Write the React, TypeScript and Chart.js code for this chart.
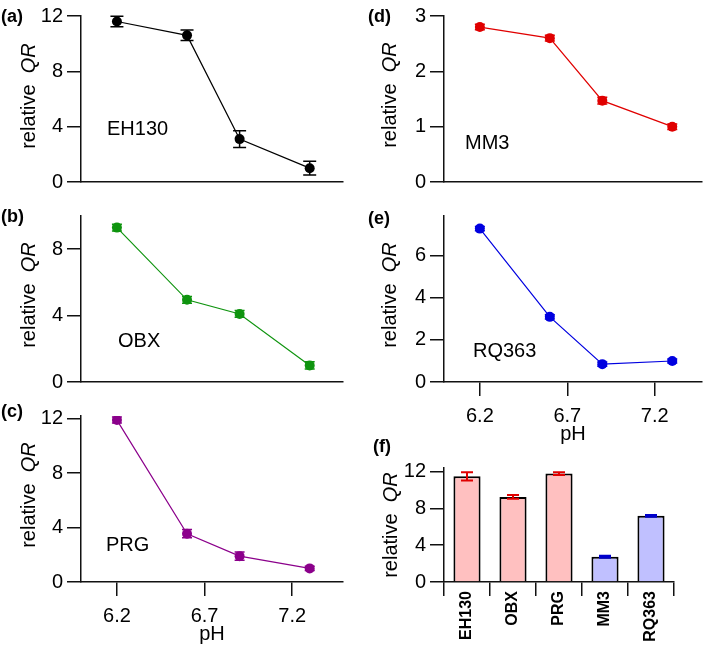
import React, { useEffect, useRef } from 'react';
import { Chart, registerables } from 'chart.js';

Chart.register(...registerables);

// ---------- data ----------
const PH = [6.2, 6.6, 6.9, 7.3];
const PH_TICKS = [6.2, 6.7, 7.2];

const EH130_QR = [11.6, 10.6, 3.1, 1.0];
const EH130_ERR = [0.38, 0.38, 0.6, 0.5];
const OBX_QR = [9.3, 4.95, 4.1, 1.0];
const OBX_ERR = [0.2, 0.2, 0.2, 0.22];
const PRG_QR = [11.9, 3.55, 1.9, 1.0];
const PRG_ERR = [0.22, 0.3, 0.3, 0.15];
const MM3_QR = [2.8, 2.6, 1.47, 1.0];
const MM3_ERR = [0.05, 0.05, 0.06, 0.05];
const RQ363_QR = [7.3, 3.1, 0.85, 1.0];
const RQ363_ERR = [0.1, 0.1, 0.1, 0.1];

const STRAINS = ['EH130', 'OBX', 'PRG', 'MM3', 'RQ363'];
const STRAIN_QR = [11.5, 9.25, 11.8, 2.75, 7.2];
const STRAIN_ERR = [0.45, 0.2, 0.15, 0.1, 0.1];

// ---------- styles ----------
const FONT = '"Liberation Sans", Arial, Helvetica, sans-serif';
const STRAIN_FILL = ['#ffc0c0', '#ffc0c0', '#ffc0c0', '#c0c0ff', '#c0c0ff'];
const STRAIN_ERR_COLOR = ['#e00000', '#e00000', '#e00000', '#0000cc', '#0000cc'];

Chart.defaults.font.family = FONT;
Chart.defaults.color = '#000';

const X_MIN = 5.995;
const TICK_SIZE = 20;

function errorPlugin(errors: number[], colors: string | string[], cap: number, width: number) {
  return {
    id: 'errorBars',
    afterDatasetsDraw(chart: any) {
      const meta = chart.getDatasetMeta(0);
      const ys = chart.scales.y;
      const ctx = chart.ctx;
      ctx.save();
      ctx.lineWidth = width;
      meta.data.forEach((el: any, i: number) => {
        const raw = chart.data.datasets[0].data[i];
        const val = typeof raw === 'number' ? raw : raw.y;
        const e = errors[i];
        const x = el.x;
        const y1 = ys.getPixelForValue(val + e);
        const y2 = ys.getPixelForValue(val - e);
        ctx.strokeStyle = Array.isArray(colors) ? colors[i] : colors;
        ctx.beginPath();
        ctx.moveTo(x, y1);
        ctx.lineTo(x, y2);
        ctx.moveTo(x - cap, y1);
        ctx.lineTo(x + cap, y1);
        ctx.moveTo(x - cap, y2);
        ctx.lineTo(x + cap, y2);
        ctx.stroke();
      });
      ctx.restore();
    },
  };
}

type LineCfg = {
  values: number[];
  errors: number[];
  color: string;
  yMax: number;
  yStep: number;
  showX: boolean;
  xMax: number;
  yW: number;
  xH: number;
  padTop: number;
  padRight: number;
  cap: number;
};

function yScale(yMax: number, yStep: number, yW: number) {
  return {
    min: 0,
    max: yMax,
    afterFit: (s: any) => {
      s.width = yW;
    },
    ticks: { stepSize: yStep, includeBounds: false, font: { size: TICK_SIZE }, padding: 4, color: '#000' },
    grid: { drawOnChartArea: false, drawTicks: true, tickLength: 14, color: '#111', lineWidth: 1.5 },
    border: { display: true, color: '#111', width: 1.5 },
  };
}

function lineConfig(c: LineCfg) {
  return {
    type: 'scatter',
    data: {
      datasets: [
        {
          data: PH.map((x, i) => ({ x, y: c.values[i] })),
          showLine: true,
          borderColor: c.color,
          backgroundColor: c.color,
          pointBackgroundColor: c.color,
          pointBorderWidth: 0,
          pointRadius: 5,
          borderWidth: 1.2,
          tension: 0,
        },
      ],
    },
    options: {
      animation: false,
      responsive: false,
      devicePixelRatio: 1,
      layout: { autoPadding: false, padding: { top: c.padTop, right: c.padRight, left: 0, bottom: 0 } },
      plugins: { legend: { display: false }, tooltip: { enabled: false } },
      scales: {
        x: {
          type: 'linear',
          position: 'bottom',
          min: X_MIN,
          max: c.xMax,
          afterFit: (s: any) => {
            s.height = c.xH;
          },
          afterBuildTicks: (s: any) => {
            s.ticks = PH_TICKS.map((v) => ({ value: v }));
          },
          ticks: {
            display: c.showX,
            font: { size: TICK_SIZE },
            padding: 8,
            autoSkip: false,
            maxRotation: 0,
            color: '#000',
            callback: (v: number) => Number(v).toFixed(1),
          },
          grid: { drawOnChartArea: false, drawTicks: c.showX, tickLength: 14, color: '#111', lineWidth: 1.5 },
          border: { display: true, color: '#111', width: 1.5 },
          title: { display: c.showX, text: 'pH', font: { size: 20 }, color: '#000', padding: { top: 0, bottom: 1 } },
        },
        y: yScale(c.yMax, c.yStep, c.yW),
      },
    },
    plugins: [errorPlugin(c.errors, c.color, c.cap, 1.5)],
  };
}

function barConfig() {
  return {
    type: 'bar',
    data: {
      labels: STRAINS,
      datasets: [
        {
          data: STRAIN_QR,
          backgroundColor: STRAIN_FILL,
          borderColor: '#000',
          borderWidth: 2,
          barPercentage: 0.59,
          categoryPercentage: 1,
        },
      ],
    },
    options: {
      animation: false,
      responsive: false,
      devicePixelRatio: 1,
      layout: { autoPadding: false, padding: { top: 28, right: 35, left: 0, bottom: 0 } },
      plugins: { legend: { display: false }, tooltip: { enabled: false } },
      scales: {
        x: {
          afterFit: (s: any) => {
            s.height = 65;
          },
          ticks: {
            font: { size: 16, weight: 'bold' },
            minRotation: 90,
            maxRotation: 90,
            autoSkip: false,
            padding: -5,
            color: '#000',
          },
          grid: { drawOnChartArea: false, offset: true, tickLength: 14, color: '#111', lineWidth: 1.5 },
          border: { display: true, color: '#111', width: 1.5 },
        },
        y: yScale(12.4, 4, 87),
      },
    },
    plugins: [errorPlugin(STRAIN_ERR, STRAIN_ERR_COLOR, 6, 2)],
  };
}

type Box = { left: number; top: number; width: number; height: number };

function ChartCanvas({ box, make }: { box: Box; make: () => any }) {
  const ref = useRef<HTMLCanvasElement>(null);
  useEffect(() => {
    const chart = new Chart(ref.current as HTMLCanvasElement, make());
    return () => chart.destroy();
  }, []);
  return (
    <canvas
      ref={ref}
      width={box.width}
      height={box.height}
      style={{ position: 'absolute', left: box.left, top: box.top, width: box.width, height: box.height }}
    />
  );
}

function Label({ x, y, text, bold, size }: { x: number; y: number; text: string; bold?: boolean; size: number }) {
  return (
    <div
      style={{
        position: 'absolute',
        left: x,
        top: y,
        fontSize: size,
        lineHeight: `${size}px`,
        fontWeight: bold ? 'bold' : 'normal',
        whiteSpace: 'nowrap',
        color: '#000',
      }}
    >
      {text}
    </div>
  );
}

function YTitle({ cx, cy }: { cx: number; cy: number }) {
  return (
    <div
      style={{
        position: 'absolute',
        left: cx,
        top: cy,
        fontSize: 20,
        lineHeight: '20px',
        whiteSpace: 'nowrap',
        transform: 'translate(-50%, -50%) rotate(-90deg)',
        color: '#000',
      }}
    >
      relative{'\u00a0\u00a0'}
      <i>QR</i>
    </div>
  );
}

export default function App() {
  return (
    <div
      style={{
        position: 'absolute',
        left: 0,
        top: 0,
        width: 709,
        height: 647,
        background: '#fff',
        fontFamily: FONT,
        overflow: 'hidden',
      }}
    >
      <ChartCanvas
        box={{ left: 0, top: 0, width: 350, height: 200 }}
        make={() =>
          lineConfig({ values: EH130_QR, errors: EH130_ERR, color: '#000', yMax: 12, yStep: 4, showX: false, xMax: 7.49, yW: 81, xH: 18, padTop: 10, padRight: 7, cap: 6.5 })
        }
      />
      <ChartCanvas
        box={{ left: 0, top: 200, width: 350, height: 200 }}
        make={() =>
          lineConfig({ values: OBX_QR, errors: OBX_ERR, color: '#0f940f', yMax: 10, yStep: 4, showX: false, xMax: 7.49, yW: 81, xH: 18, padTop: 11, padRight: 7, cap: 5 })
        }
      />
      <ChartCanvas
        box={{ left: 0, top: 400, width: 350, height: 247 }}
        make={() =>
          lineConfig({ values: PRG_QR, errors: PRG_ERR, color: '#8b008b', yMax: 12.2, yStep: 4, showX: true, xMax: 7.49, yW: 81, xH: 65, padTop: 15, padRight: 7, cap: 5 })
        }
      />
      <ChartCanvas
        box={{ left: 357, top: 0, width: 352, height: 200 }}
        make={() =>
          lineConfig({ values: MM3_QR, errors: MM3_ERR, color: '#e00000', yMax: 3, yStep: 1, showX: false, xMax: 7.47, yW: 87, xH: 18, padTop: 10, padRight: 7, cap: 5 })
        }
      />
      <ChartCanvas
        box={{ left: 357, top: 200, width: 352, height: 247 }}
        make={() =>
          lineConfig({ values: RQ363_QR, errors: RQ363_ERR, color: '#0000e0', yMax: 7.9, yStep: 2, showX: true, xMax: 7.47, yW: 87, xH: 65, padTop: 10, padRight: 7, cap: 5 })
        }
      />
      <ChartCanvas box={{ left: 357, top: 440, width: 352, height: 207 }} make={barConfig} />

      <YTitle cx={28} cy={96} />
      <YTitle cx={28} cy={295} />
      <YTitle cx={28} cy={495} />
      <YTitle cx={389} cy={95} />
      <YTitle cx={389} cy={295} />
      <YTitle cx={390} cy={525} />

      <Label x={107} y={118} text="EH130" size={20} />
      <Label x={118} y={330} text="OBX" size={20} />
      <Label x={106} y={534} text="PRG" size={20} />
      <Label x={465} y={132} text="MM3" size={20} />
      <Label x={473} y={340} text="RQ363" size={20} />

      <Label x={1} y={7} text="(a)" bold size={18} />
      <Label x={1} y={207} text="(b)" bold size={18} />
      <Label x={1} y={402} text="(c)" bold size={18} />
      <Label x={368} y={7} text="(d)" bold size={18} />
      <Label x={368} y={209} text="(e)" bold size={18} />
      <Label x={373} y={437} text="(f)" bold size={18} />
    </div>
  );
}
